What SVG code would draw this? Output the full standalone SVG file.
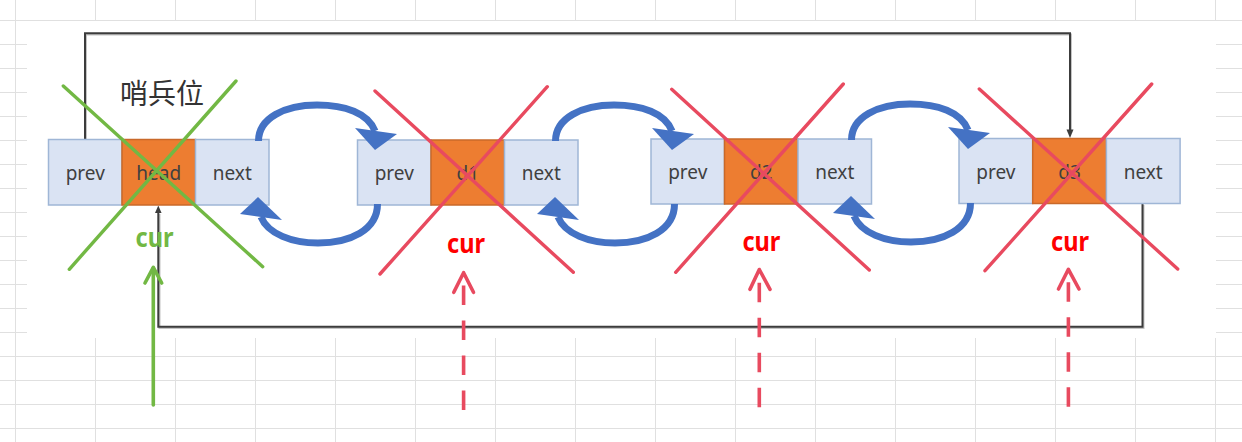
<svg xmlns="http://www.w3.org/2000/svg" width="1242" height="442" viewBox="0 0 1242 442">
<style>
.grid line{stroke:#e0e0e0;stroke-width:1}
.cell{fill:#dae3f3;stroke:#9fb6d6;stroke-width:1.5}
.data{fill:#ed7d31;stroke:#c9692a;stroke-width:1.5}
.lbl{font-family:"Noto Sans","Liberation Sans",sans-serif;font-size:19px;fill:#404040;text-anchor:middle}
.cur{font-family:"Noto Sans","Liberation Sans",sans-serif;font-size:26px;font-weight:bold;text-anchor:middle}
.blk{fill:none;stroke:#3c3c3c;stroke-width:2}
.shd{fill:none;stroke:#c4c4c4;stroke-width:2}
.blue{fill:none;stroke:#4472c4;stroke-width:7}
.bhead{fill:#4472c4}
.gx{stroke:#72b844;stroke-width:3.4;stroke-linecap:round}
.rx{stroke:#e84a5f;stroke-width:3.4;stroke-linecap:round}
.garr{fill:none;stroke:#72b844;stroke-width:3.6;stroke-linecap:round;stroke-linejoin:round}
.rarr{fill:none;stroke:#e84a5f;stroke-width:3.6;stroke-linecap:round;stroke-linejoin:round}
.rdash{fill:none;stroke:#e84a5f;stroke-width:3.6;stroke-dasharray:19.5 15.5}
</style>
<defs>
<g id="bluepair">
<path class="blue" d="M258.5,141 C258.5,118 285,105 317,105 C345,105 368,113 375,131"/>
<polygon class="bhead" points="355,128 397,134 375,150"/>
<path class="blue" d="M377.5,204 C377.5,230 350,243 318,243 C292,243 268,234 261,217"/>
<polygon class="bhead" points="240,214 258,197 282,220"/>
</g>
</defs>
<rect width="1242" height="442" fill="#ffffff"/>
<g class="grid">
<line x1="0" y1="20.5" x2="1242" y2="20.5"/><line x1="0" y1="44.5" x2="1242" y2="44.5"/><line x1="0" y1="68.5" x2="1242" y2="68.5"/><line x1="0" y1="92.5" x2="1242" y2="92.5"/><line x1="0" y1="116.5" x2="1242" y2="116.5"/><line x1="0" y1="140.5" x2="1242" y2="140.5"/><line x1="0" y1="164.5" x2="1242" y2="164.5"/><line x1="0" y1="188.5" x2="1242" y2="188.5"/><line x1="0" y1="212.5" x2="1242" y2="212.5"/><line x1="0" y1="236.5" x2="1242" y2="236.5"/><line x1="0" y1="260.5" x2="1242" y2="260.5"/><line x1="0" y1="284.5" x2="1242" y2="284.5"/><line x1="0" y1="308.5" x2="1242" y2="308.5"/><line x1="0" y1="332.5" x2="1242" y2="332.5"/><line x1="0" y1="356.5" x2="1242" y2="356.5"/><line x1="0" y1="380.5" x2="1242" y2="380.5"/><line x1="0" y1="404.5" x2="1242" y2="404.5"/><line x1="0" y1="428.5" x2="1242" y2="428.5"/>
<line x1="15.5" y1="0" x2="15.5" y2="442"/><line x1="95.5" y1="0" x2="95.5" y2="442"/><line x1="175.5" y1="0" x2="175.5" y2="442"/><line x1="255.5" y1="0" x2="255.5" y2="442"/><line x1="335.5" y1="0" x2="335.5" y2="442"/><line x1="415.5" y1="0" x2="415.5" y2="442"/><line x1="495.5" y1="0" x2="495.5" y2="442"/><line x1="575.5" y1="0" x2="575.5" y2="442"/><line x1="655.5" y1="0" x2="655.5" y2="442"/><line x1="735.5" y1="0" x2="735.5" y2="442"/><line x1="815.5" y1="0" x2="815.5" y2="442"/><line x1="895.5" y1="0" x2="895.5" y2="442"/><line x1="975.5" y1="0" x2="975.5" y2="442"/><line x1="1055.5" y1="0" x2="1055.5" y2="442"/><line x1="1135.5" y1="0" x2="1135.5" y2="442"/><line x1="1215.5" y1="0" x2="1215.5" y2="442"/>
</g>
<rect x="27" y="21" width="1189" height="317" fill="#ffffff"/>

<g id="connectors">
<path class="shd" d="M86,141 V34.5 H1071 V131"/>
<path class="blk" d="M85,140 V33.3 H1070 V130"/>
<polygon points="1066.5,129.5 1073.5,129.5 1070,138" fill="#3c3c3c"/>
<path class="shd" d="M1143.5,205 V328 H159.5 V214"/>
<path class="blk" d="M1142.5,204 V326.7 H158.3 V212"/>
<polygon points="155,213 161.6,213 158.3,205.5" fill="#3c3c3c"/>
</g>

<text id="sentinel" x="120" y="104" font-family="'Noto Sans CJK SC',sans-serif" font-size="28" fill="#333333">哨兵位</text>

<g id="node-head" transform="translate(48.5,139.5)">
<rect class="cell" x="0" y="0" width="73.5" height="65.5"/>
<rect class="data" x="73.5" y="0" width="73.5" height="65.5"/>
<rect class="cell" x="147" y="0" width="73.5" height="65.5"/>
<text class="lbl" x="36.75" y="40.5">prev</text>
<text class="lbl" x="110.25" y="40.5">head</text>
<text class="lbl" x="183.75" y="40.5">next</text>
</g>
<g id="node-d1" transform="translate(357.5,140)">
<rect class="cell" x="0" y="0" width="73.5" height="65"/>
<rect class="data" x="73.5" y="0" width="73.5" height="65"/>
<rect class="cell" x="147" y="0" width="73.5" height="65"/>
<text class="lbl" x="36.75" y="40">prev</text>
<text class="lbl" x="110.25" y="40">d1</text>
<text class="lbl" x="183.75" y="40">next</text>
</g>
<g id="node-d2" transform="translate(651,139)">
<rect class="cell" x="0" y="0" width="73.5" height="65"/>
<rect class="data" x="73.5" y="0" width="73.5" height="65"/>
<rect class="cell" x="147" y="0" width="73.5" height="65"/>
<text class="lbl" x="36.75" y="40">prev</text>
<text class="lbl" x="110.25" y="40">d2</text>
<text class="lbl" x="183.75" y="40">next</text>
</g>
<g id="node-d3" transform="translate(959,138.5)">
<rect class="cell" x="0" y="0" width="73.7" height="65"/>
<rect class="data" x="73.7" y="0" width="73.7" height="65"/>
<rect class="cell" x="147.4" y="0" width="73.7" height="65"/>
<text class="lbl" x="36.85" y="40">prev</text>
<text class="lbl" x="110.5" y="40">d3</text>
<text class="lbl" x="184.2" y="40">next</text>
</g>

<g id="links">
<use href="#bluepair"/>
<use href="#bluepair" transform="translate(297,0)"/>
<use href="#bluepair" transform="translate(593,-1)"/>
</g>

<g id="crosses">
<line class="gx" x1="63.3" y1="86" x2="262.7" y2="266.7"/>
<line class="gx" x1="236" y1="81" x2="69.3" y2="269.3"/>
<line class="rx" x1="375" y1="91" x2="573.3" y2="272.3"/>
<line class="rx" x1="547.3" y1="86.7" x2="380" y2="274"/>
<line class="rx" x1="671.7" y1="89.3" x2="869.3" y2="270"/>
<line class="rx" x1="843.3" y1="84" x2="675.7" y2="272.3"/>
<line class="rx" x1="979.3" y1="89" x2="1177.7" y2="269"/>
<line class="rx" x1="1151.7" y1="84" x2="985" y2="270.7"/>
</g>

<g id="cur-labels">
<text class="cur" x="154.5" y="247" fill="#72b844" textLength="38" lengthAdjust="spacingAndGlyphs">cur</text>
<text class="cur" x="466" y="253" fill="#ff0000" textLength="38" lengthAdjust="spacingAndGlyphs">cur</text>
<text class="cur" x="761.4" y="251" fill="#ff0000" textLength="38" lengthAdjust="spacingAndGlyphs">cur</text>
<text class="cur" x="1070" y="251" fill="#ff0000" textLength="38" lengthAdjust="spacingAndGlyphs">cur</text>
</g>

<g id="cur-arrows">
<line class="garr" x1="153.3" y1="405" x2="153.3" y2="268"/>
<polyline class="garr" points="145,283 153.3,267.3 161.7,283"/>
<line class="rdash" x1="463.6" y1="410" x2="463.6" y2="285"/>
<polyline class="rarr" points="453.8,292.3 463.6,272.7 473.5,292.3"/>
<line class="rdash" x1="759.3" y1="407.3" x2="759.3" y2="282.3"/>
<polyline class="rarr" points="750,289.3 759.3,269.5 770,289.3"/>
<line class="rdash" x1="1068.4" y1="406.7" x2="1068.4" y2="281.7"/>
<polyline class="rarr" points="1058.5,289 1068.4,269.3 1079,289"/>
</g>
</svg>
